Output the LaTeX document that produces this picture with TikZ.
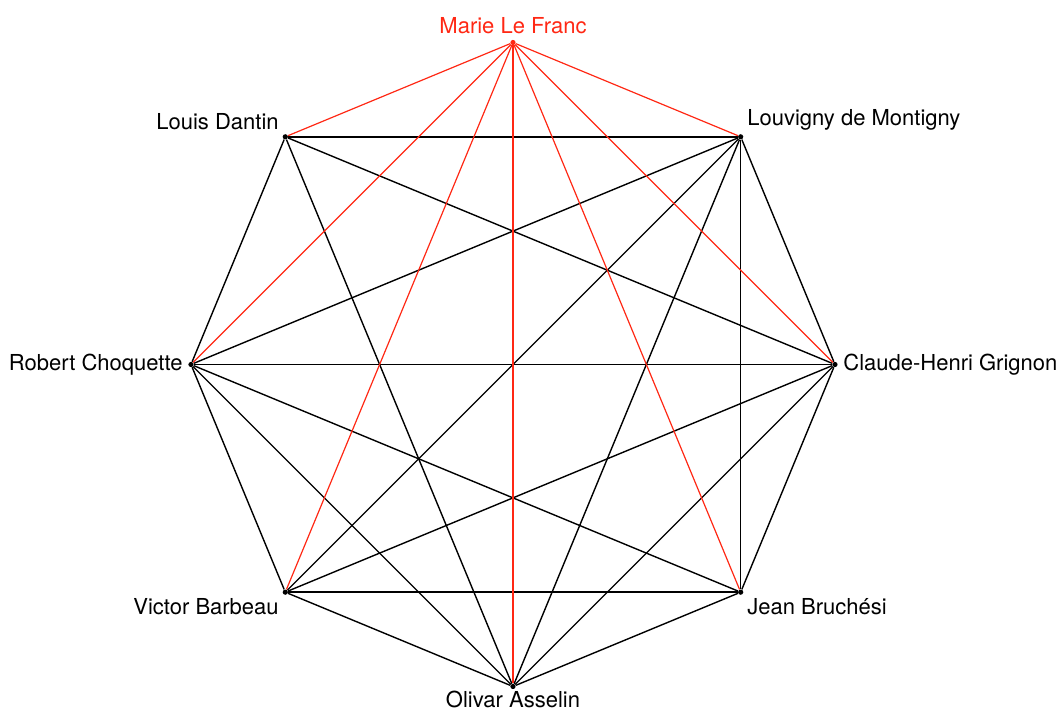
\documentclass[tikz,border=0pt]{standalone}
\usepackage{fontspec}
\setmainfont{TeX Gyre Heros}
\usetikzlibrary{math}
\definecolor{myred}{RGB}{255,40,20}

\tikzset{
  vertex/.style={circle, fill=black, inner sep=0pt, minimum size=2.6bp},
  person/.style={font=\fontsize{11bp}{13bp}\selectfont, inner sep=1bp},
  tie/.style={line width=0.7bp},
  redtie/.style={line width=0.6bp, color=myred}
}

\begin{document}
\begin{tikzpicture}[x=0.5bp, y=0.5bp, label distance=1.5bp]
\tikzmath{
\R=322;
}
\useasboundingbox (-513,-348.5) rectangle (546,364.5);

%people on the octagon
\node[vertex, fill=myred, label={[person, myred]above:Marie Le Franc}] (marie) at (90:\R) {};
\node[vertex, label={[person]above left:Louis Dantin}] (louis) at (135:\R) {};
\node[vertex, label={[person]above right:Louvigny de Montigny}] (louvigny) at (45:\R) {};
\node[vertex, label={[person]left:Robert Choquette}] (robert) at (180:\R) {};
\node[vertex, label={[person]right:Claude-Henri Grignon}] (claude) at (0:\R) {};
\node[vertex, label={[person]below left:Victor Barbeau}] (victor) at (225:\R) {};
\node[vertex, label={[person]below right:Jean Bruchési}] (jean) at (315:\R) {};
\node[vertex, label={[person, inner sep=0.5bp, label distance=0pt]below:Olivar Asselin}] (olivar) at (270:\R) {};

%black ties
\foreach \a/\b in {louis/louvigny, louis/robert, louis/claude, louis/olivar,
  louvigny/robert, louvigny/victor, louvigny/olivar, louvigny/jean, louvigny/claude,
  robert/claude, robert/jean, robert/olivar, robert/victor,
  claude/victor, claude/olivar, claude/jean,
  victor/jean, victor/olivar, jean/olivar}
  \draw[tie] (\a) -- (\b);

%red ties
\foreach \b in {louis, louvigny, robert, claude, victor, jean, olivar}
  \draw[redtie] (marie) -- (\b);
\end{tikzpicture}
\end{document}
